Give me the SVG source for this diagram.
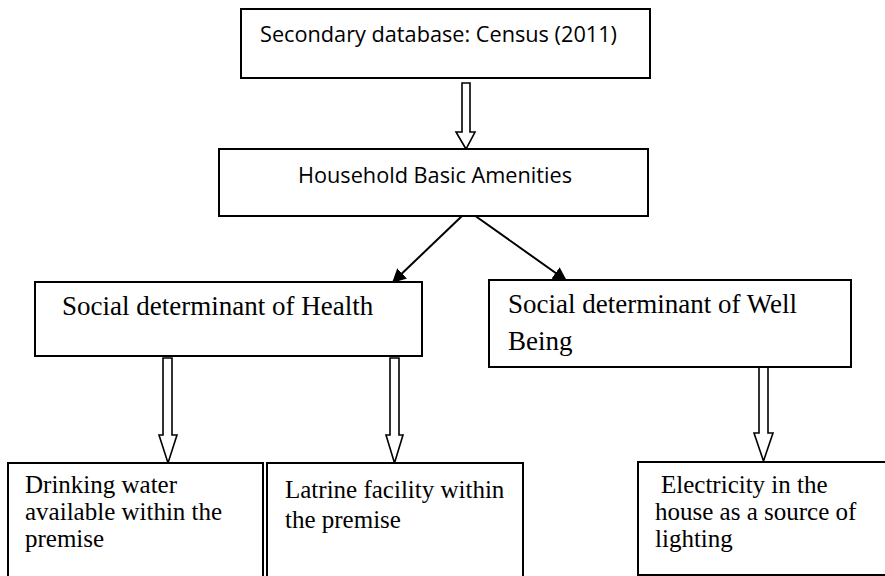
<svg xmlns="http://www.w3.org/2000/svg" width="885" height="576" viewBox="0 0 885 576">
<style>
.box{fill:#fff;stroke:#000;stroke-width:2}
.blk{fill:#fff;stroke:#000;stroke-width:1.6;stroke-linejoin:miter}
.ln{stroke:#000;stroke-width:2;fill:none}
.sans{font-family:"Open Sans","Liberation Sans",sans-serif;font-size:21px;fill:#000}
.serif{font-family:"Liberation Serif","Times New Roman",serif;fill:#000}
.big{font-size:27px}
.small{font-size:25px}
</style>
<defs>
<marker id="ah" viewBox="0 0 10 10" refX="10" refY="5" markerWidth="14" markerHeight="14" markerUnits="userSpaceOnUse" orient="auto">
<path d="M0,0 L10,5 L0,10 z" fill="#000"/>
</marker>
</defs>
<rect width="885" height="576" fill="#fff"/>
<g id="connectors">
<polygon class="blk" points="462,83 470,83 470,132 475,132 466,149 456,132 462,132"/>
<line class="ln" x1="462" y1="216" x2="392" y2="283" marker-end="url(#ah)"/>
<line class="ln" x1="474" y1="215" x2="567" y2="281" marker-end="url(#ah)"/>
<polygon class="blk" points="163,358 172,358 172,435 177,435 168,463 159,435 163,435"/>
<polygon class="blk" points="390,358 399,358 399,435 403,435 394.5,463 386,435 390,435"/>
<polygon class="blk" points="759,367 768,367 768,433 773,433 763.5,461 754,433 759,433"/>
</g>
<g id="census">
<rect class="box" x="241" y="9" width="409" height="69"/>
<text class="sans" x="260" y="42" textLength="357" lengthAdjust="spacingAndGlyphs">Secondary database: Census (2011)</text>
</g>
<g id="amenities">
<rect class="box" x="219" y="149" width="429" height="67"/>
<text class="sans" x="298" y="183" textLength="274" lengthAdjust="spacingAndGlyphs">Household Basic Amenities</text>
</g>
<g id="health">
<rect class="box" x="35" y="282" width="387" height="74"/>
<text class="serif big" x="62" y="315">Social determinant of Health</text>
</g>
<g id="wellbeing">
<rect class="box" x="489" y="280" width="362" height="87"/>
<text class="serif big" x="508" y="313">Social determinant of Well</text>
<text class="serif big" x="508" y="350">Being</text>
</g>
<g id="water">
<rect class="box" x="8" y="463" width="255" height="120"/>
<text class="serif small" x="25" y="493">Drinking water</text>
<text class="serif small" x="25" y="520">available within the</text>
<text class="serif small" x="25" y="547">premise</text>
</g>
<g id="latrine">
<rect class="box" x="267" y="463" width="256" height="120"/>
<text class="serif small" x="285" y="498">Latrine facility within</text>
<text class="serif small" x="285" y="528">the premise</text>
</g>
<g id="electricity">
<rect class="box" x="638" y="462" width="260" height="113"/>
<text class="serif small" x="661" y="493">Electricity in the</text>
<text class="serif small" x="655" y="520">house as a source of</text>
<text class="serif small" x="655" y="547">lighting</text>
</g>
</svg>
